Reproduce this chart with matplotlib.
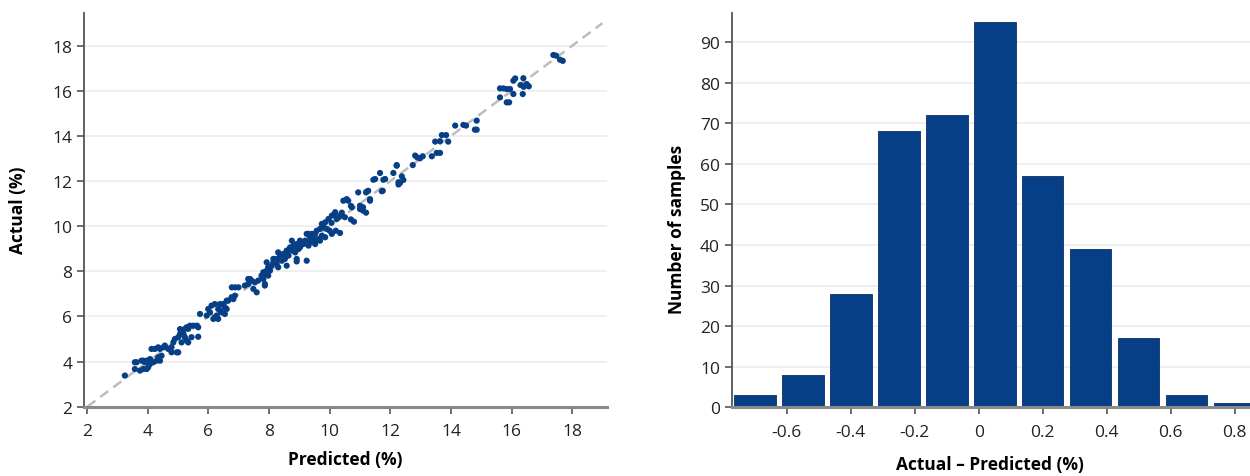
import matplotlib
matplotlib.use("Agg")
from matplotlib import pyplot as plt

# scatter points: (predicted, actual) in %
points = [
    (3.24, 3.38), (3.57, 3.67), (3.57, 3.97), (3.63, 3.97), (3.74, 3.60), (3.79, 4.04),
    (3.85, 3.67), (3.85, 4.04), (3.90, 3.97), (3.96, 4.04), (3.96, 3.67), (4.01, 3.75),
    (4.07, 4.11), (4.07, 3.89), (4.12, 4.56), (4.18, 3.97), (4.23, 4.56), (4.29, 4.04),
    (4.34, 4.19), (4.34, 4.63), (4.40, 4.04), (4.40, 4.56), (4.45, 4.26), (4.51, 4.63),
    (4.56, 4.71), (4.67, 4.56), (4.78, 4.63), (4.78, 4.41), (4.84, 4.85), (4.89, 5.00),
    (4.95, 4.41), (5.00, 4.41), (5.00, 5.08), (5.06, 5.22), (5.06, 5.44), (5.11, 5.37),
    (5.11, 4.85), (5.17, 5.22), (5.22, 5.45), (5.22, 5.08), (5.28, 4.93), (5.28, 5.52),
    (5.33, 5.45), (5.33, 4.85), (5.39, 5.59), (5.44, 5.08), (5.50, 5.59), (5.61, 5.59),
    (5.66, 5.52), (5.66, 5.10), (5.72, 6.11), (5.94, 6.04), (5.99, 6.33), (6.05, 6.18),
    (6.10, 6.48), (6.16, 5.89), (6.21, 6.55), (6.21, 5.96), (6.27, 6.04), (6.32, 6.33),
    (6.32, 5.89), (6.38, 6.55), (6.38, 6.26), (6.43, 6.18), (6.49, 6.55), (6.54, 6.11),
    (6.54, 6.41), (6.60, 6.33), (6.60, 6.70), (6.65, 6.70), (6.76, 6.85), (6.82, 6.77),
    (6.87, 6.92), (6.77, 7.29), (6.88, 7.29), (6.99, 7.29),
    (7.20, 7.37), (7.31, 7.44), (7.31, 7.66), (7.37, 7.66), (7.42, 7.59), (7.48, 7.22),
    (7.53, 7.51), (7.59, 7.07), (7.64, 7.59), (7.75, 7.81), (7.81, 7.66), (7.81, 7.96),
    (7.86, 7.37), (7.86, 7.88), (7.86, 7.44), (7.92, 8.03), (7.92, 8.40), (7.97, 8.18),
    (7.97, 7.81), (8.03, 8.03), (8.08, 8.25), (8.14, 8.40), (8.14, 8.55), (8.19, 8.55),
    (8.25, 8.33), (8.30, 8.18), (8.30, 8.55), (8.30, 8.84), (8.36, 8.70), (8.42, 8.47),
    (8.47, 8.77), (8.52, 8.55), (8.58, 8.92), (8.58, 8.25), (8.58, 8.85), (8.64, 8.70),
    (8.69, 9.06), (8.75, 8.92), (8.75, 9.36), (8.80, 9.14), (8.80, 8.99), (8.86, 8.84),
    (8.91, 9.21), (8.91, 8.44), (8.91, 8.55), (8.97, 8.99), (9.02, 9.14), (9.02, 9.36),
    (9.02, 9.07), (9.13, 9.21), (9.19, 9.36), (9.24, 8.47), (9.24, 9.66), (9.30, 9.14),
    (9.30, 9.66), (9.35, 9.51), (9.35, 9.29), (9.41, 9.66), (9.46, 9.43), (9.52, 9.66),
    (9.52, 9.21), (9.52, 9.29), (9.57, 9.80), (9.63, 9.43), (9.68, 9.88), (9.68, 9.36),
    (9.74, 10.10), (9.74, 9.58), (9.79, 9.95), (9.85, 10.17), (9.85, 9.51), (9.90, 9.88),
    (9.96, 10.32), (10.00, 9.80), (10.07, 10.47), (10.07, 9.66), (10.13, 10.50), (10.06, 10.15),
    (10.18, 10.62), (10.20, 9.80), (10.23, 10.32), (10.30, 10.40), (10.34, 10.47), (10.34, 9.70),
    (10.40, 10.60), (10.45, 11.13), (10.50, 10.40), (10.56, 11.20), (10.61, 11.13), (10.70, 10.90),
    (10.70, 10.30), (10.73, 10.84), (10.80, 10.20),
    (10.94, 11.50), (11.00, 10.91), (11.00, 10.76), (11.10, 10.84), (11.10, 10.69), (11.20, 11.50),
    (11.20, 10.60), (11.22, 11.53), (11.27, 11.57), (11.33, 11.20), (11.33, 11.13), (11.44, 12.06),
    (11.50, 12.09), (11.66, 12.36), (11.72, 11.55), (11.75, 11.57), (11.77, 12.06), (11.83, 12.09),
    (12.10, 12.36), (12.21, 12.71), (12.21, 12.68), (12.27, 11.95), (12.27, 11.85), (12.32, 11.92),
    (12.38, 12.21), (12.43, 12.05), (12.74, 12.71), (12.82, 13.13), (12.89, 13.05), (12.98, 13.01),
    (13.07, 13.10), (13.37, 13.10), (13.53, 13.25), (13.64, 13.25), (13.48, 13.75), (13.64, 13.77),
    (13.70, 14.04), (13.84, 14.04), (13.91, 13.75), (14.14, 14.46), (14.41, 14.49), (14.50, 14.46),
    (14.85, 14.68), (14.85, 14.28), (14.79, 14.28),
    (15.62, 16.11), (15.73, 16.11), (15.84, 16.08), (15.95, 16.08), (15.62, 15.71), (15.84, 15.49),
    (15.92, 15.49), (16.06, 15.86), (16.06, 16.45), (16.12, 16.55), (16.39, 16.56), (16.30, 16.26),
    (16.50, 16.30), (16.40, 16.18), (16.37, 15.86), (16.57, 16.20),
    (17.38, 17.59), (17.47, 17.56), (17.60, 17.38), (17.69, 17.33),
]
predicted = [p[0] for p in points]
actual = [p[1] for p in points]

# histogram of residuals
bin_centers = [-0.70, -0.55, -0.40, -0.25, -0.10, 0.05, 0.20, 0.35, 0.50, 0.65, 0.80]
counts = [3, 8, 28, 68, 72, 95, 57, 39, 17, 3, 1]
hist_ticks = [-0.6, -0.4, -0.2, 0, 0.2, 0.4, 0.6, 0.8]
hist_ticklabels = ['-0.6', '-0.4', '-0.2', '0', '0.2', '0.4', '0.6', '0.8']

plt.rcParams['font.family'] = ['Open Sans', 'DejaVu Sans']
blue = '#073f86'
grid_c = '#ececec'


def style_axes(ax):
    for s in ['top', 'right']:
        ax.spines[s].set_visible(False)
    ax.spines['left'].set_color('#555555')
    ax.spines['left'].set_linewidth(1.3)
    ax.spines['bottom'].set_color('#8a8a8a')
    ax.spines['bottom'].set_linewidth(2.2)
    ax.tick_params(axis='both', direction='out', length=5, width=1.2,
                   color='#555555', labelsize=12.5, labelcolor='#222222')
    ax.tick_params(axis='x', pad=7)
    ax.yaxis.grid(True, color=grid_c, linewidth=1.2)
    ax.set_axisbelow(True)


fig = plt.figure(figsize=(12.5, 4.77), dpi=100)

# scatter: actual vs predicted
ax1 = fig.add_axes([0.0674, 0.1453, 0.4182, 0.8253])
ax1.plot([2, 19], [2, 19], color='#bdbdbd', linestyle=(0, (4, 2.5)), linewidth=1.8, zorder=1)
ax1.scatter(predicted, actual, s=20, color=blue, edgecolors='none', zorder=2)
ax1.set_xlim(1.9, 19.15)
ax1.set_ylim(2, 19.45)
ax1.set_xticks(range(2, 19, 2))
ax1.set_yticks(range(2, 19, 2))
style_axes(ax1)

# histogram of residuals
ax2 = fig.add_axes([0.5854, 0.144, 0.4146, 0.8266])
ax2.bar(bin_centers, counts, width=0.13, color=blue, edgecolor='#0a2f63', linewidth=0.6, zorder=2)
ax2.set_xlim(-0.772, 0.848)
ax2.set_ylim(0, 97.2)
ax2.set_xticks(hist_ticks)
ax2.set_xticklabels(hist_ticklabels)
ax2.set_yticks(range(0, 91, 10))
style_axes(ax2)

fig.text(0.0144, 0.56, 'Actual (%)', rotation=90, ha='center', va='center',
         fontsize=12.5, fontweight='bold')
fig.text(0.276, 0.036, 'Predicted (%)', ha='center', va='center',
         fontsize=12.5, fontweight='bold')
fig.text(0.5416, 0.52, 'Number of samples', rotation=90, ha='center', va='center',
         fontsize=12.5, fontweight='bold')
fig.text(0.792, 0.025, 'Actual \u2013 Predicted (%)', ha='center', va='center',
         fontsize=12.5, fontweight='bold')

fig.savefig('out.png', dpi=100, facecolor='white')
